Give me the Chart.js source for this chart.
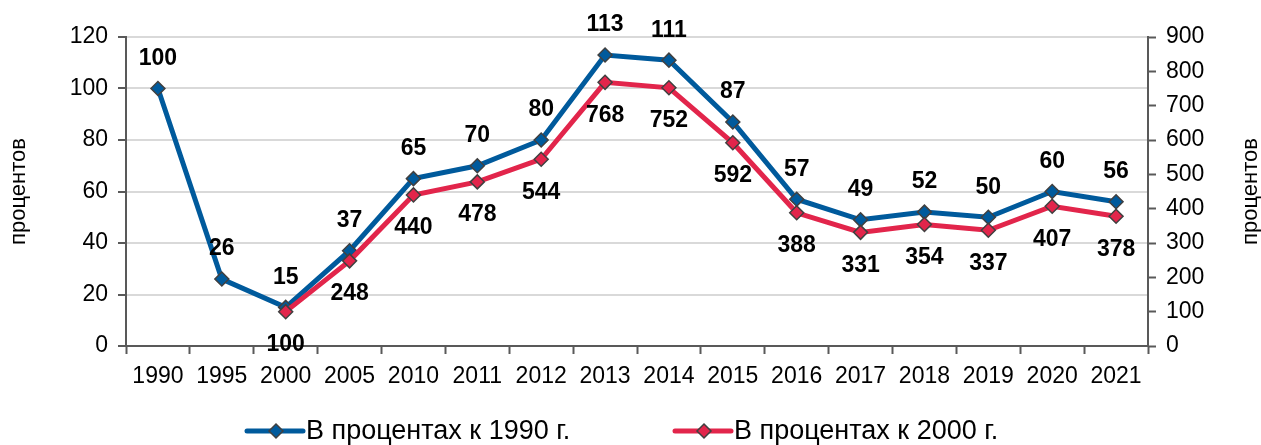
<!DOCTYPE html>
<html>
<head>
<meta charset="utf-8">
<script src="https://cdn.jsdelivr.net/npm/chart.js@4.4.1/dist/chart.umd.min.js"></script>
<style>
  html, body { margin: 0; padding: 0; background: #fff; }
  #wrap { width: 1261px; height: 445px; }
</style>
</head>
<body>
<div id="wrap"><canvas id="chart" width="1261" height="445"></canvas></div>
<script>
// ---- data ----
const years = ["1990", "1995", "2000", "2005", "2010", "2011", "2012", "2013",
  "2014", "2015", "2016", "2017", "2018", "2019", "2020", "2021"];
const pct1990 = [100, 26, 15, 37, 65, 70, 80, 113, 111, 87, 57, 49, 52, 50, 60, 56];
const pct2000 = [null, null, 100, 248, 440, 478, 544, 768, 752, 592, 388, 331, 354, 337, 407, 378];
const seriesNames = ["В процентах к 1990 г.", "В процентах к 2000 г."];
const axisTitle = "процентов";

const BLUE = "#005a9c";
const RED = "#e2254b";
const EDGE = "#404040";
const AXIS = "#595959";
const FONT = "Arial, 'Liberation Sans', sans-serif";

// data labels: blue above, red below
const valueLabels = {
  id: "valueLabels",
  afterDatasetsDraw(chart) {
    const ctx = chart.ctx;
    const offsets = [-30, 33];
    ctx.save();
    ctx.font = "bold 23px " + FONT;
    ctx.fillStyle = "#000";
    ctx.textAlign = "center";
    ctx.textBaseline = "middle";
    chart.data.datasets.forEach((ds, i) => {
      const meta = chart.getDatasetMeta(i);
      meta.data.forEach((pt, j) => {
        const v = ds.data[j];
        if (v == null) return;
        ctx.fillText(String(v), pt.x, pt.y + offsets[i]);
      });
    });
    ctx.restore();
  }
};

// right axis title (reads bottom-to-top like the left one) + legend
const extras = {
  id: "extras",
  afterDraw(chart) {
    const ctx = chart.ctx;
    const a = chart.chartArea;
    ctx.save();
    ctx.font = "22px " + FONT;
    ctx.fillStyle = "#000";
    ctx.textAlign = "center";
    ctx.textBaseline = "middle";
    ctx.translate(1251, (a.top + a.bottom) / 2);
    ctx.rotate(-Math.PI / 2);
    ctx.fillText(axisTitle, 0, 0);
    ctx.restore();

    // legend
    const colors = [BLUE, RED];
    const starts = [247, 675];
    const y = 431;
    ctx.save();
    colors.forEach((c, i) => {
      const x0 = starts[i];
      ctx.strokeStyle = c;
      ctx.lineWidth = 5;
      ctx.lineCap = "round";
      ctx.beginPath();
      ctx.moveTo(x0, y);
      ctx.lineTo(x0 + 56, y);
      ctx.stroke();
      const cx = x0 + 29, r = 7;
      ctx.beginPath();
      ctx.moveTo(cx, y - r);
      ctx.lineTo(cx + r, y);
      ctx.lineTo(cx, y + r);
      ctx.lineTo(cx - r, y);
      ctx.closePath();
      ctx.fillStyle = c;
      ctx.fill();
      ctx.lineWidth = 1.5;
      ctx.strokeStyle = EDGE;
      ctx.stroke();
      ctx.font = "27px " + FONT;
      ctx.fillStyle = "#000";
      ctx.textAlign = "left";
      ctx.textBaseline = "middle";
      ctx.fillText(seriesNames[i], x0 + 59, y + 1);
    });
    ctx.restore();
  }
};

new Chart(document.getElementById("chart"), {
  type: "line",
  data: {
    labels: years,
    datasets: [
      {
        label: seriesNames[0],
        data: pct1990,
        yAxisID: "y",
        borderColor: BLUE,
        backgroundColor: BLUE,
        borderWidth: 5,
        pointStyle: "rectRot",
        pointRadius: 7,
        pointBorderColor: EDGE,
        pointBorderWidth: 1.5,
        pointBackgroundColor: BLUE,
        tension: 0,
        order: 1
      },
      {
        label: seriesNames[1],
        data: pct2000,
        yAxisID: "y2",
        borderColor: RED,
        backgroundColor: RED,
        borderWidth: 5,
        pointStyle: "rectRot",
        pointRadius: 7,
        pointBorderColor: EDGE,
        pointBorderWidth: 1.5,
        pointBackgroundColor: RED,
        tension: 0,
        order: 0
      }
    ]
  },
  options: {
    responsive: false,
    animation: false,
    layout: { padding: { top: 37, right: 0, bottom: 45, left: 0 } },
    plugins: {
      legend: { display: false },
      tooltip: { enabled: false }
    },
    scales: {
      x: {
        offset: true,
        grid: { offset: true, drawOnChartArea: false, tickLength: 8, tickColor: AXIS, tickWidth: 2 },
        border: { color: AXIS, width: 2 },
        ticks: { color: "#000", font: { size: 23, family: FONT }, padding: 9, maxRotation: 0, autoSkip: false },
        afterFit(scale) { scale.height = 54; }
      },
      y: {
        position: "left",
        min: 0, max: 120,
        ticks: { stepSize: 20, color: "#000", font: { size: 23, family: FONT }, padding: 10 },
        grid: { color: "#d9d9d9", lineWidth: 2, tickLength: 8, tickColor: AXIS, tickWidth: 2 },
        border: { color: AXIS, width: 2 },
        title: { display: true, text: axisTitle, color: "#000", font: { size: 22, family: FONT }, padding: { top: 6, bottom: 0 } },
        afterFit(scale) { scale.width = 126; }
      },
      y2: {
        position: "right",
        min: 0, max: 900,
        ticks: { stepSize: 100, color: "#000", font: { size: 23, family: FONT }, padding: 10 },
        grid: { drawOnChartArea: false, tickLength: 8, tickColor: AXIS, tickWidth: 2 },
        border: { color: AXIS, width: 2 },
        afterFit(scale) { scale.width = 113; }
      }
    }
  },
  plugins: [valueLabels, extras]
});
</script>
</body>
</html>
